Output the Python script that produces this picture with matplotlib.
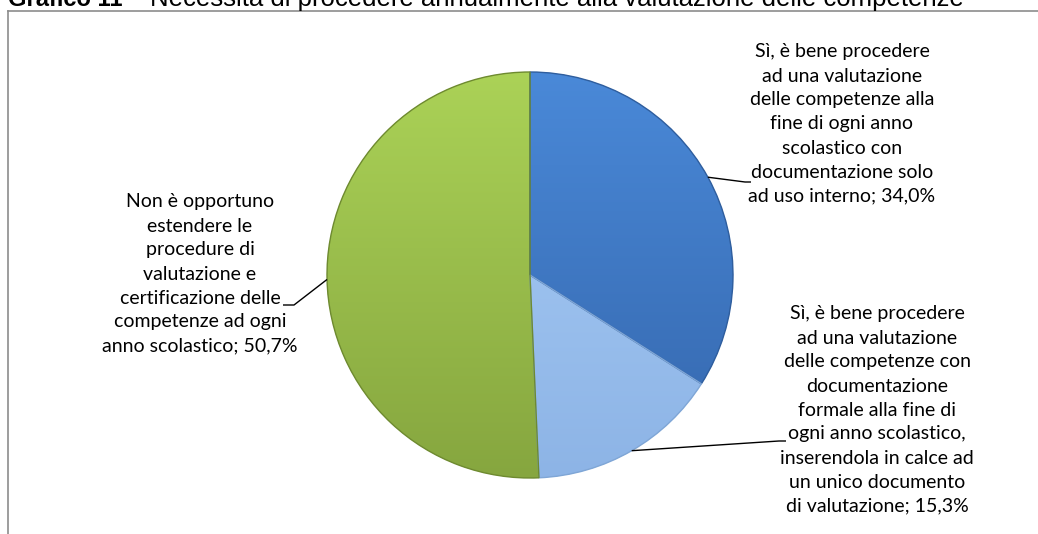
import numpy as np
import matplotlib.pyplot as plt
from matplotlib.lines import Line2D
from matplotlib.patches import PathPatch
from matplotlib.colors import LinearSegmentedColormap

# Dati del grafico
labels = [
    "Sì, è bene procedere\nad una valutazione\ndelle competenze alla\nfine di ogni anno\nscolastico con\ndocumentazione solo\nad uso interno",
    "Sì, è bene procedere\nad una valutazione\ndelle competenze con\ndocumentazione\nformale alla fine di\nogni anno scolastico,\ninserendola in calce ad\nun unico documento\ndi valutazione",
    "Non è opportuno\nestendere le\nprocedure di\nvalutazione e\ncertificazione delle\ncompetenze ad ogni\nanno scolastico",
]
values = [34.0, 15.3, 50.7]
title_bold = "Grafico 11"
title_text = "Necessità di procedere annualmente alla valutazione delle competenze"

W, H = 1038, 534
colors_top = ["#4A89D8", "#A9CDF6", "#ABD257"]
colors_bottom = ["#3466AC", "#8DB4E6", "#86A63F"]
edge_colors = ["#2F5E9E", "#7FA6D6", "#6E8A30"]

# posizioni delle etichette (pixel, origine in alto a sinistra)
label_pos = [(842, 124), (877, 410), (200, 274)]
elbow = [(745, 182), (779, 441), (294, 305)]
stub = [(751, 182), (786, 441), (283, 305)]

cx, cy, r = 530, H - 275, 203

fig = plt.figure(figsize=(W / 100, H / 100), dpi=100)
ax = fig.add_axes([0, 0, 1, 1])

wedges, _ = ax.pie(values, startangle=90, counterclock=False,
                   center=(cx, cy), radius=r,
                   colors=colors_top,
                   wedgeprops=dict(linewidth=0))
ax.set_xlim(0, W)
ax.set_ylim(0, H)
ax.set_aspect("equal")
ax.axis("off")

# sfumatura verticale dentro ogni spicchio
grad = np.linspace(0, 1, 256).reshape(-1, 1)
for w, ct, cb, ec in zip(wedges, colors_top, colors_bottom, edge_colors):
    cmap = LinearSegmentedColormap.from_list("g", [cb, ct])
    im = ax.imshow(grad, cmap=cmap, origin="lower", aspect="auto",
                   extent=(cx - r, cx + r, cy - r, cy + r), zorder=1.5)
    im.set_clip_path(w)
    edge = PathPatch(w.get_path(), fill=False, edgecolor=ec,
                     linewidth=1.0, zorder=2, transform=w.get_transform())
    ax.add_patch(edge)

# etichette e linee guida
font = ["Lato", "DejaVu Sans"]
start = 90.0
for i, (lab, v) in enumerate(zip(labels, values)):
    ang = start - v * 3.6 / 2
    start -= v * 3.6
    ex = cx + r * np.cos(np.radians(ang))
    ey = cy + r * np.sin(np.radians(ang))
    bx, by = elbow[i]
    sx, sy = stub[i]
    ax.plot([ex, bx, sx], [ey, H - by, H - sy], color="black", lw=1.0,
            zorder=3, solid_capstyle="butt")
    pct = f"{v:.1f}".replace(".", ",") + "%"
    lx, ly = label_pos[i]
    ax.text(lx, H - ly, f"{lab}; {pct}", ha="center", va="center",
            fontsize=14, family=font, linespacing=1.5, color="black")

# cornice grigia
fig.add_artist(Line2D([8 / W, 1], [1 - 11 / H, 1 - 11 / H],
                      color="#8C8C8C", lw=1.2, transform=fig.transFigure))
fig.add_artist(Line2D([8 / W, 8 / W], [0, 1 - 11 / H],
                      color="#8C8C8C", lw=1.2, transform=fig.transFigure))

# titolo (tagliato in alto come nell'immagine)
fig.text(8 / W, 1 - 6 / H, title_bold, fontsize=17, fontweight="bold",
         family="Liberation Sans", va="baseline", ha="left")
fig.text(150 / W, 1 - 6 / H, title_text, fontsize=18.5,
         family="Liberation Sans", va="baseline", ha="left")

fig.savefig("out.png", dpi=100)
